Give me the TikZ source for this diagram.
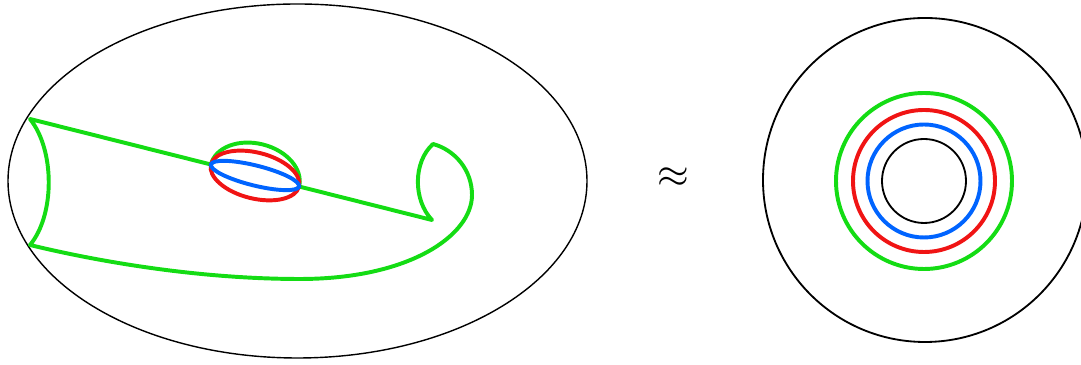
\documentclass[tikz,border=0pt]{standalone}
\usepackage{amsmath,amssymb}
\usepackage{tikz}
\usetikzlibrary{calc}
\usepackage{xcolor}
\definecolor{loopgreen}{RGB}{20,220,20}
\definecolor{loopred}{RGB}{240,20,20}
\definecolor{loopblue}{RGB}{0,100,255}

\begin{document}
\begin{tikzpicture}[
    x=0.025cm, y=0.025cm,
    rim/.style={draw=black, line width=1pt},
    hole/.style={draw=black, line width=1.3pt},
    gline/.style={draw=loopgreen, line width=2.8pt, line join=round, line cap=round},
    rline/.style={draw=loopred, line width=2.8pt},
    bline/.style={draw=loopblue, line width=2.8pt}
]
    \useasboundingbox (0,0) rectangle (1081,365);

    % Surface
    \draw[rim] (297.5,184) ellipse[x radius=289.5, y radius=177];

    % Green loop points
    \coordinate (cuspA) at (30,246);
    \coordinate (cuspB) at (30,120);
    \coordinate (holeL) at (210.95,200.5);
    \coordinate (holeR) at (299.05,178.5);
    \coordinate (cuspC) at (432,145);
    \coordinate (tipT) at (433,221);
    \coordinate (bulge) at (472,170);
    \coordinate (bottom) at (300,86);

    \draw[gline] (holeL) -- (cuspA)
        .. controls (55,215) and (55,150) .. (cuspB)
        .. controls (100,103) and (200,86) .. (bottom)
        .. controls (410,86) and (472,130) .. (bulge)
        .. controls (472,195) and (455,215) .. (tipT)
        .. controls (413,203) and (413,165) .. (cuspC)
        -- (holeR);

    % Small hole with the three loops
    \begin{scope}[shift={(255,189.5)}, rotate=-14]
        \draw[gline] (-45.4,0) arc[start angle=180, end angle=0, x radius=45.4, y radius=32];
        \draw[rline] (0,0) ellipse[x radius=45.4, y radius=23];
        \draw[bline] (0,0) ellipse[x radius=45.4, y radius=10];
    \end{scope}

    \node[inner sep=0pt, scale=2.9] (approx) at (673,187) {$\approx$};

    % Annulus
    \coordinate (mid) at (924,184);
    \draw[hole] (925,185) circle[radius=162];
    \draw[gline] (mid) circle[radius=88];
    \draw[rline] (mid) circle[radius=71];
    \draw[bline] (mid) circle[radius=56.5];
    \draw[hole] (mid) circle[radius=42];
\end{tikzpicture}
\end{document}
